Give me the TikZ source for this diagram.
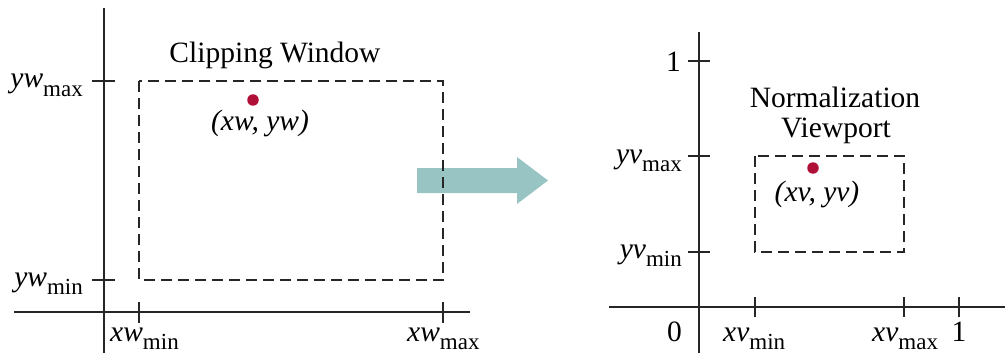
\documentclass[tikz,border=0pt]{standalone}
\usepackage{fontspec}
\setmainfont{Liberation Serif}
\definecolor{arrowteal}{RGB}{152,196,196}
\definecolor{dotred}{RGB}{176,16,56}
\tikzset{
  axis/.style={line width=2pt, black!85},
  tick/.style={line width=2pt, black!85},
  win/.style={line width=2pt, black!85, dash pattern=on 11pt off 6pt},
  lbl/.style={inner sep=0pt, font=\fontsize{29.5}{34}\selectfont},
  pt/.style={circle, fill=dotred, inner sep=0pt, minimum size=11.5pt},
}
\newcommand{\vlab}[2]{\textit{#1}\raisebox{-0.3em}{\fontsize{23}{25}\selectfont #2}}
\begin{document}
\begin{tikzpicture}[x=1pt,y=-1pt]
\useasboundingbox (0,0) rectangle (1005,353);
% ---------- left: world coordinates ----------
\coordinate (LyT) at (104,8);
\coordinate (LyB) at (104,353);
\coordinate (LxL) at (14,312);
\coordinate (LxR) at (470,312);
\draw[axis] (LyT) -- (LyB);
\draw[axis] (LxL) -- (LxR);
% transformation arrow (under the dashed window)
\fill[arrowteal] (417,168) coordinate (arrA) -- (517,168) -- (517,157) -- (548,180.5) coordinate (arrTip)
  -- (517,204) -- (517,193) -- (417,193) -- cycle;
% clipping window
\coordinate (W1) at (139,81);
\coordinate (W2) at (443,280);
\draw[win] (W1) rectangle (W2);
% ticks
\draw[tick] (92,81) -- (115,81);
\draw[tick] (92,280) -- (115,280);
\draw[tick] (139,302) -- (139,323);
\draw[tick] (443,302) -- (443,323);
% labels
\node[lbl, anchor=base] (cw) at (275,63) {Clipping Window};
\node[pt] (pw) at (253,100) {};
\node[lbl, anchor=base] (pwl) at (260,131) {\textit{(xw, yw)}};
\node[lbl, anchor=base east] (ywmax) at (83,88) {\vlab{yw}{max}};
\node[lbl, anchor=base east] (ywmin) at (83,286) {\vlab{yw}{min}};
\node[lbl, anchor=base west] (xwmin) at (110,341) {\vlab{xw}{min}};
\node[lbl, anchor=base west] (xwmax) at (407,341) {\vlab{xw}{max}};
% ---------- right: normalized viewport ----------
\coordinate (RyT) at (699,32);
\coordinate (RyB) at (699,353);
\coordinate (RxL) at (609,307);
\coordinate (RxR) at (1005,307);
\draw[axis] (RyT) -- (RyB);
\draw[axis] (RxL) -- (RxR);
\coordinate (V1) at (755,156);
\coordinate (V2) at (904,252);
\draw[win] (V1) rectangle (V2);
\draw[tick] (688,61) -- (710,61);
\draw[tick] (688,156) -- (710,156);
\draw[tick] (688,252) -- (710,252);
\draw[tick] (755,297) -- (755,317);
\draw[tick] (904,297) -- (904,317);
\draw[tick] (959,297) -- (959,317);
\node[lbl, anchor=base east] (one) at (681,72) {1};
\node[lbl, anchor=base] (nv1) at (835,107) {Normalization};
\node[lbl, anchor=base] (nv2) at (836,137) {Viewport};
\node[pt] (pv) at (813,168) {};
\node[lbl, anchor=base] (pvl) at (817,201) {\textit{(xv, yv)}};
\node[lbl, anchor=base east] (yvmax) at (682,163) {\vlab{yv}{max}};
\node[lbl, anchor=base east] (yvmin) at (682,258) {\vlab{yv}{min}};
\node[lbl, anchor=base east] (zero) at (682,341) {0};
\node[lbl, anchor=base west] (xvmin) at (723,341) {\vlab{xv}{min}};
\node[lbl, anchor=base west] (xvmax) at (872,341) {\vlab{xv}{max}};
\node[lbl, anchor=base] (onex) at (959,341) {1};
\end{tikzpicture}
\end{document}
